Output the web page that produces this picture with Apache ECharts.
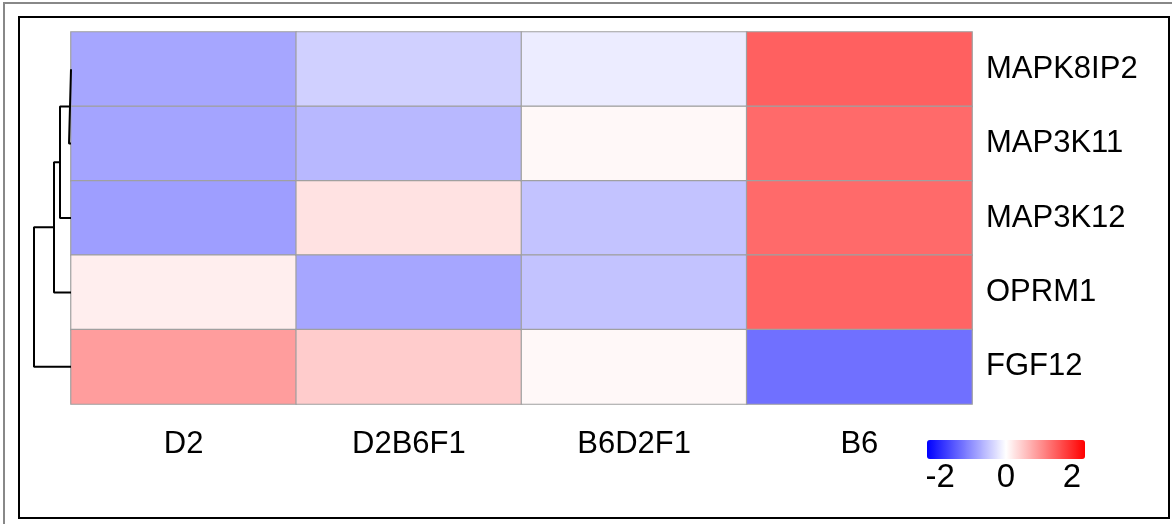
<!DOCTYPE html>
<html>
<head>
<meta charset="utf-8">
<script src="https://cdn.jsdelivr.net/npm/echarts@6/dist/echarts.min.js"></script>
<style>
  html, body { margin: 0; padding: 0; background: #fff; }
  #main { width: 1172px; height: 524px; }
</style>
</head>
<body>
<div id="main"></div>
<script>
var samples = ['D2', 'D2B6F1', 'B6D2F1', 'B6']
var genes = ['MAPK8IP2', 'MAP3K11', 'MAP3K12', 'OPRM1', 'FGF12']

// row-scaled expression, one array per sample (same order as genes)
var val_D2     = [-0.84, -0.86, -0.91,  0.16,  0.92]
var val_D2B6F1 = [-0.44, -0.67,  0.27, -0.84,  0.48]
var val_B6D2F1 = [-0.18,  0.07, -0.56, -0.56,  0.07]
var val_B6     = [ 1.50,  1.40,  1.40,  1.46, -1.35]

// dendrogram merges: [left, right, height]; nodes >= 5 are earlier merges
var merges = [
    [0, 1, 0.2],
    [5, 2, 1.1],
    [6, 3, 1.7],
    [7, 4, 3.7]
]
var legend_ticks = [-2, 0, 2]

var columns = [val_D2, val_D2B6F1, val_B6D2F1, val_B6]
var heat_data = []
for (var c = 0; c < columns.length; c++) {
    for (var r = 0; r < genes.length; r++) {
        heat_data.push([c, r, columns[c][r]])
    }
}

// build dendrogram segments
var node_y = [0, 1, 2, 3, 4]
var node_h = [0, 0, 0, 0, 0]
var dendro_series = []
for (var i = 0; i < merges.length; i++) {
    var a = merges[i][0], b = merges[i][1], h = merges[i][2]
    dendro_series.push({
        type: 'line',
        xAxisIndex: 1,
        yAxisIndex: 1,
        symbol: 'none',
        silent: true,
        lineStyle: { color: '#000', width: 2 },
        data: [[node_h[a], node_y[a]], [h, node_y[a]], [h, node_y[b]], [node_h[b], node_y[b]]]
    })
    node_y.push((node_y[a] + node_y[b]) / 2)
    node_h.push(h)
}

var legend_min = -2.4, legend_max = 2.4
var bar_left = 927, bar_len = 158
var font = 'Liberation Sans, Arial, sans-serif'

var myChart = echarts.init(document.getElementById('main'))
var option = {
    animation: false,
    backgroundColor: '#fff',
    grid: [
        { left: 71, right: 200, top: 32, bottom: 120 },
        { left: 34, width: 37, top: 32, bottom: 120 }
    ],
    xAxis: [
        {
            type: 'category',
            gridIndex: 0,
            data: samples,
            axisLine: { show: false },
            axisTick: { show: false },
            splitLine: { show: false },
            axisLabel: { margin: 25, fontSize: 31, color: '#000', fontFamily: font }
        },
        {
            type: 'value',
            gridIndex: 1,
            min: 0,
            max: merges[merges.length - 1][2],
            inverse: true,
            show: false
        }
    ],
    yAxis: [
        {
            type: 'category',
            gridIndex: 0,
            data: genes,
            inverse: true,
            position: 'right',
            axisLine: { show: false },
            axisTick: { show: false },
            splitLine: { show: false },
            axisLabel: { margin: 14, fontSize: 31, color: '#000', fontFamily: font }
        },
        {
            type: 'value',
            gridIndex: 1,
            min: -0.5,
            max: 4.5,
            inverse: true,
            show: false
        }
    ],
    visualMap: {
        type: 'continuous',
        seriesIndex: 0,
        min: legend_min,
        max: legend_max,
        orient: 'horizontal',
        left: bar_left - 15,
        top: 425,
        itemWidth: 19,
        itemHeight: bar_len,
        calculable: false,
        text: null,
        showLabel: false,
        inRange: { color: ['#0000ff', '#ffffff', '#ff0000'] }
    },
    graphic: [
        {
            type: 'rect',
            shape: { x: 4, y: 3, width: 1200, height: 560 },
            style: { fill: null, stroke: '#888', lineWidth: 2 },
            silent: true
        },
        {
            type: 'rect',
            shape: { x: 19, y: 17, width: 1150, height: 501 },
            style: { fill: null, stroke: '#000', lineWidth: 2 },
            silent: true
        }
    ].concat(legend_ticks.map(function (t) {
        return {
            type: 'text',
            x: bar_left + (t - legend_min) / (legend_max - legend_min) * bar_len,
            y: 478,
            silent: true,
            style: {
                text: String(t),
                fontSize: 33,
                fill: '#000',
                fontFamily: font,
                align: 'center',
                verticalAlign: 'middle'
            }
        }
    })),
    series: [
        {
            type: 'heatmap',
            xAxisIndex: 0,
            yAxisIndex: 0,
            data: heat_data,
            itemStyle: { borderColor: '#a0a0a0', borderWidth: 1.2 },
            emphasis: { disabled: true }
        }
    ].concat(dendro_series)
}
myChart.setOption(option)
</script>
</body>
</html>
